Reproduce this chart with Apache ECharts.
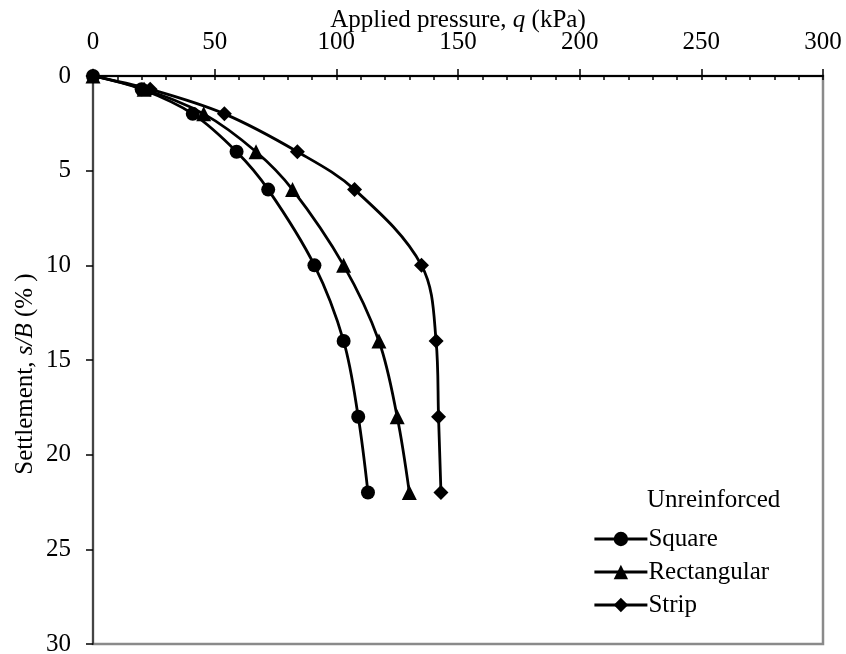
<!DOCTYPE html>
<html>
<head>
<meta charset="utf-8">
<script src="https://cdn.jsdelivr.net/npm/echarts@6/dist/echarts.min.js"></script>
<style>html,body{margin:0;padding:0;background:#fff}#c{width:846px;height:654px}</style>
</head>
<body>
<div id="c"></div>
<script>
// Settlement ratio s/B (%)
const settlement = [0, 0.7, 2, 4, 6, 10, 14, 18, 22];
// Applied pressure q (kPa)
const squareQ = [0, 20, 41, 59, 72, 91, 103, 109, 113];
const rectangularQ = [0, 21, 45.5, 67, 82, 103, 117.5, 125, 130];
const stripQ = [0, 23.5, 54, 84, 107.5, 135, 141, 142, 143];
const seriesNames = ['Square', 'Rectangular', 'Strip'];
const legendTitle = 'Unreinforced';

const FONT = "'Liberation Serif', 'Times New Roman', serif";
const FS = 25;

function pairs(qs) { return qs.map((q, i) => [q, settlement[i]]); }

const chart = echarts.init(document.getElementById('c'), null, {renderer: 'canvas'});

function mk(name, qs, symbol, size, z) {
  return {
    name: name, type: 'line', data: pairs(qs), xAxisIndex: 0, yAxisIndex: 0,
    smooth: 0.35, symbol: symbol, symbolSize: size, showSymbol: true, clip: false,
    lineStyle: {color: '#000', width: 2.8},
    itemStyle: {color: '#000', borderWidth: 0},
    z: z, animation: false
  };
}

chart.setOption({
  animation: false,
  backgroundColor: '#fff',
  textStyle: {fontFamily: FONT, color: '#000'},
  grid: {left: 93, top: 76, width: 730, height: 568, outerBoundsMode: 'none', containLabel: false,
    show: true, borderColor: '#8a8a8a', borderWidth: 2.5, backgroundColor: 'transparent'},
  xAxis: [{
    type: 'value', position: 'top', min: 0, max: 300, interval: 50,
    name: 'Applied pressure, {i|q} (kPa)', nameLocation: 'middle', nameGap: 43, nameMoveOverlap: false,
    nameTextStyle: {fontFamily: FONT, fontSize: FS, color: '#000',
      rich: {i: {fontFamily: FONT, fontSize: FS, fontStyle: 'italic', color: '#000'}}},
    axisLine: {show: true, lineStyle: {color: '#000', width: 2}},
    axisTick: {show: true, inside: true, length: 4, lineStyle: {color: '#000', width: 1.5}},
    minorTick: {show: true, splitNumber: 5, length: 4, lineStyle: {color: '#000', width: 1.5}},
    axisLabel: {fontFamily: FONT, fontSize: FS, color: '#000', margin: 21},
    splitLine: {show: false}, minorSplitLine: {show: false}
  }, {
    type: 'value', position: 'top', min: 0, max: 300, interval: 50,
    axisLine: {show: false},
    axisTick: {show: true, inside: false, length: 7, lineStyle: {color: '#000', width: 1.5}},
    axisLabel: {show: false}, splitLine: {show: false}
  }],
  yAxis: [{
    type: 'value', inverse: true, min: 0, max: 30, interval: 5,
    name: 'Settlement, {i|s/B} (% )', nameLocation: 'middle', nameGap: 55, nameMoveOverlap: false,
    nameTextStyle: {fontFamily: FONT, fontSize: FS, color: '#000', padding: [0, 28, 0, 0],
      rich: {i: {fontFamily: FONT, fontSize: FS, fontStyle: 'italic', color: '#000'}}},
    axisLine: {show: true, lineStyle: {color: '#444', width: 2}},
    axisTick: {show: true, inside: false, length: 7, lineStyle: {color: '#000', width: 1.5}},
    axisLabel: {fontFamily: FONT, fontSize: FS, color: '#000', margin: 22},
    splitLine: {show: false}
  }],
  legend: {
    orient: 'vertical', left: 588, top: 519, itemWidth: 53, itemHeight: 18, itemGap: 3,
    lineStyle: {width: 2.8, color: '#000'},
    textStyle: {fontFamily: FONT, fontSize: FS, color: '#000', lineHeight: 30, padding: [0,0,0,-4]},
    data: seriesNames, selectedMode: false
  },
  graphic: [{
    type: 'text', left: 647, top: 488,
    style: {text: legendTitle, font: FS + 'px ' + FONT, fill: '#000'}
  }],
  series: [
    mk(seriesNames[1], rectangularQ, 'triangle', 15, 3),
    mk(seriesNames[2], stripQ, 'diamond', 15, 2),
    mk(seriesNames[0], squareQ, 'circle', 14, 4)
  ]
});
</script>
</body>
</html>
